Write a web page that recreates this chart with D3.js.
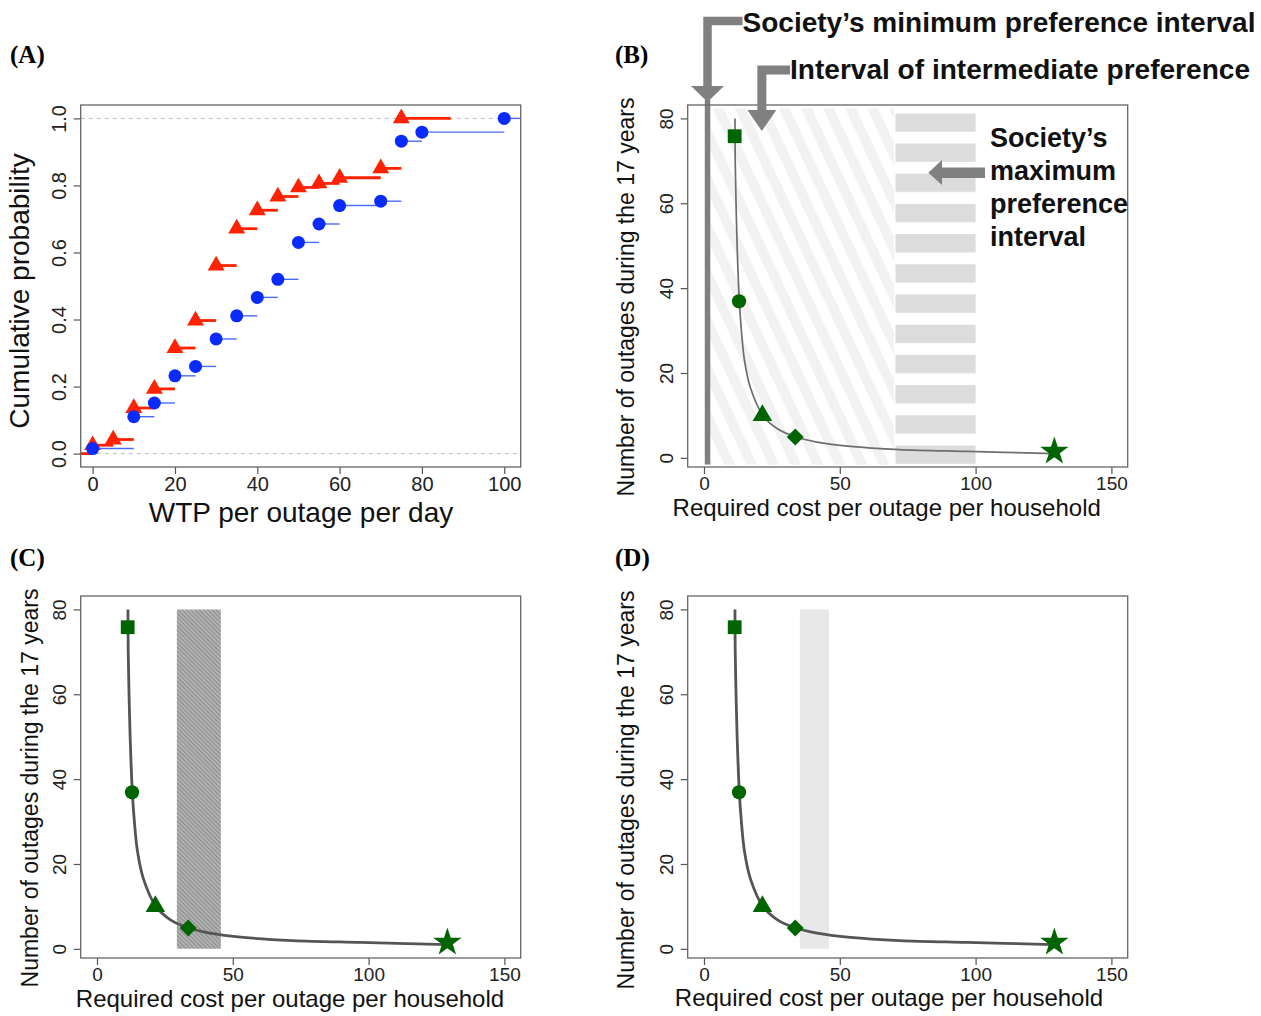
<!DOCTYPE html>
<html>
<head>
<meta charset="utf-8">
<script src="https://cdn.jsdelivr.net/npm/d3@7"></script>
<style>
  body { margin: 0; background: #fff; }
  svg { display: block; font-family: "Liberation Sans", Arial, Helvetica, sans-serif; }
</style>
</head>
<body>
<svg id="fig" width="1261" height="1016"></svg>
<script>
// (A) empirical cumulative distributions of WTP per outage per day
const wtpRed  = [0, 5, 10, 15, 20, 25, 30, 35, 40, 45, 50, 55, 60, 70, 75];
const cdfRed  = [0.025, 0.042, 0.136, 0.193, 0.315, 0.397, 0.561, 0.671, 0.726, 0.767, 0.794, 0.806, 0.823, 0.851, 1.0];
const redEnd  = 87;
const wtpBlue = [0, 10, 15, 20, 25, 30, 35, 40, 45, 50, 55, 60, 70, 75, 80, 100];
const cdfBlue = [0.015, 0.110, 0.151, 0.232, 0.260, 0.342, 0.411, 0.466, 0.520, 0.630, 0.685, 0.740, 0.753, 0.932, 0.959, 1.0];
const blueEnd = 104;

// (B)-(D) required cost vs number of outages
const curveCost    = [11.4, 11.5, 11.8, 12.2, 13.0, 13.7, 14.9, 17.1, 21.7, 26.9, 33.8, 41.6, 53.9, 72, 97, 129];
const curveOutages = [80, 70, 60, 50, 37, 30.5, 23, 16.5, 10, 6.9, 4.9, 3.7, 2.7, 1.95, 1.5, 1.0];
const optionCost    = [11.3, 12.9, 21.5, 33.6, 129];
const optionOutages = [75.8, 36.9, 10, 4.9, 1.5];
const optionShape   = ["square", "circle", "triangle", "diamond", "star"];

// preference intervals (cost axis)
const minPrefCost  = 1.3;
const midPrefRange = [1.3, 70];
const maxPrefRange = [70.5, 100];
const intervalC    = [29.4, 45.6];
const intervalD    = [35.3, 46.0];

// tick labels
const xTicksA = [0, 20, 40, 60, 80, 100];
const yTicksA = [0, 0.2, 0.4, 0.6, 0.8, 1.0];
const xTicksCost = [0, 50, 100, 150];
const yTicksOut  = [0, 20, 40, 60, 80];

const svg = d3.select("#fig");
const W = 440, H = 362;
const green = "#006400";

// patterns
const defs = svg.append("defs");
const stripes = defs.append("pattern").attr("id", "stripes")
  .attr("patternUnits", "userSpaceOnUse").attr("width", 20).attr("height", 20)
  .attr("patternTransform", "rotate(-25)");
stripes.append("rect").attr("width", 20).attr("height", 20).attr("fill", "#fff");
stripes.append("rect").attr("width", 10).attr("height", 20).attr("fill", "#f2f2f2");

const bars = defs.append("pattern").attr("id", "bars")
  .attr("patternUnits", "userSpaceOnUse").attr("width", 40).attr("height", 30.2)
  .attr("y", 113.3);
bars.append("rect").attr("width", 40).attr("height", 18.3).attr("fill", "#dcdcdc");

const dense = defs.append("pattern").attr("id", "dense")
  .attr("patternUnits", "userSpaceOnUse").attr("width", 3).attr("height", 3)
  .attr("patternTransform", "rotate(-45)");
dense.append("rect").attr("width", 3).attr("height", 3).attr("fill", "#b8b8b8");
dense.append("rect").attr("width", 1.3).attr("height", 3).attr("fill", "#8c8c8c");

function makePanel(left, top, xDomain, yDomain) {
  const g = svg.append("g");
  const x = d3.scaleLinear().domain(xDomain).range([left, left + W]);
  const y = d3.scaleLinear().domain(yDomain).range([top + H, top]);
  return { g, x, y, left, top };
}

function drawAxes(p, xTicks, yTicks, fmtY, fontSize) {
  const ax = p.g.append("g").attr("transform", `translate(0,${p.top + H})`)
    .call(d3.axisBottom(p.x).tickValues(xTicks).tickSize(7).tickPadding(3));
  const ay = p.g.append("g").attr("transform", `translate(${p.left},0)`)
    .call(d3.axisLeft(p.y).tickValues(yTicks).tickSize(7).tickFormat(fmtY));
  [ax, ay].forEach(a => {
    a.attr("font-family", null).attr("font-size", fontSize);
    a.select(".domain").remove();
    a.selectAll("line").attr("stroke", "#555").attr("stroke-width", 1.2);
    a.selectAll("text").attr("fill", "#222");
  });
  ay.selectAll("text")
    .attr("transform", "rotate(-90)")
    .attr("x", 0).attr("y", -15).attr("dy", 0)
    .attr("text-anchor", "middle");
  p.g.append("rect")
    .attr("x", p.left).attr("y", p.top).attr("width", W).attr("height", H)
    .attr("fill", "none").attr("stroke", "#666").attr("stroke-width", 1.3);
}

function titles(xText, xc, xBase, xSize, yText, yBase, yc, ySize) {
  svg.append("text").attr("x", xc).attr("y", xBase).attr("text-anchor", "middle")
    .style("font-size", xSize + "px").attr("fill", "#111").text(xText);
  svg.append("text").attr("transform", `translate(${yBase},${yc}) rotate(-90)`)
    .attr("text-anchor", "middle").style("font-size", ySize + "px").attr("fill", "#111").text(yText);
}

function panelLabel(txt, x, y) {
  svg.append("text").attr("x", x).attr("y", y)
    .style("font-family", "'Liberation Serif', 'Times New Roman', serif")
    .style("font-weight", "bold").style("font-size", "25px").text(txt);
}

// ---------- panel A ----------
const pA = makePanel(80.7, 105, [-2.9, 104], [-0.04, 1.04]);
[0, 1].forEach(v => {
  pA.g.append("line").attr("x1", pA.left).attr("x2", pA.left + W)
    .attr("y1", pA.y(v)).attr("y2", pA.y(v))
    .attr("stroke", "#bbb").attr("stroke-dasharray", "4,4").attr("stroke-width", 1);
});

function steps(xs, ys, end) {
  return xs.map((x0, i) => ({ x0, x1: i < xs.length - 1 ? xs[i + 1] : end, y: ys[i] }));
}
const redSeg = steps(wtpRed, cdfRed, redEnd);
redSeg.unshift({ x0: -2.9, x1: 0, y: 0 });
const blueSeg = steps(wtpBlue, cdfBlue, blueEnd);

pA.g.append("g").selectAll("line").data(redSeg).enter().append("line")
  .attr("x1", d => pA.x(d.x0)).attr("x2", d => pA.x(d.x1))
  .attr("y1", d => pA.y(d.y)).attr("y2", d => pA.y(d.y))
  .attr("stroke", "#ff2200").attr("stroke-width", 2.8);
pA.g.append("g").selectAll("path").data(wtpRed).enter().append("path")
  .attr("d", d3.symbol(d3.symbolTriangle, 125))
  .attr("transform", (d, i) => `translate(${pA.x(d)},${pA.y(cdfRed[i])})`)
  .attr("fill", "#ff2200");

pA.g.append("g").selectAll("line").data(blueSeg).enter().append("line")
  .attr("x1", d => pA.x(d.x0)).attr("x2", d => pA.x(d.x1))
  .attr("y1", d => pA.y(d.y)).attr("y2", d => pA.y(d.y))
  .attr("stroke", "#4a6bff").attr("stroke-width", 1.4);
pA.g.append("g").selectAll("circle").data(wtpBlue).enter().append("circle")
  .attr("cx", d => pA.x(d)).attr("cy", (d, i) => pA.y(cdfBlue[i])).attr("r", 6.5)
  .attr("fill", "#0a2bff");

drawAxes(pA, xTicksA, yTicksA, d3.format(".1f"), 20);
titles("WTP per outage per day", 301, 521.5, 28, "Cumulative probability", 28.5, 291, 28);
panelLabel("(A)", 10, 63);

// ---------- frontier panels ----------
const shapes = {
  square: d3.symbol(d3.symbolSquare, 190)(),
  circle: d3.symbol(d3.symbolCircle, 160)(),
  triangle: d3.symbol(d3.symbolTriangle, 165)(),
  diamond: d3.symbol(d3.symbolSquare, 145)(),
  star: d3.symbol(d3.symbolStar, 250)()
};

function frontier(p, lineColor, lineWidth) {
  const pts = curveCost.map((c, i) => [c, curveOutages[i]]);
  p.g.append("path").datum(pts)
    .attr("d", d3.line().x(d => p.x(d[0])).y(d => p.y(d[1])).curve(d3.curveCatmullRom.alpha(0.5)))
    .attr("fill", "none").attr("stroke", lineColor).attr("stroke-width", lineWidth);
  p.g.append("g").selectAll("path").data(optionShape).enter().append("path")
    .attr("d", d => shapes[d])
    .attr("transform", (d, i) => `translate(${p.x(optionCost[i])},${p.y(optionOutages[i])})` + (d === "diamond" ? " rotate(45)" : ""))
    .attr("fill", green);
}

function costDomain(left, top) {
  return makePanel(left, top, [-6, 156], [-2.16, 83.16]);
}

// ---------- panel B ----------
const pB = costDomain(687.7, 105);
pB.g.append("rect")
  .attr("x", pB.x(midPrefRange[0])).attr("width", pB.x(midPrefRange[1]) - pB.x(midPrefRange[0]))
  .attr("y", pB.y(82.4)).attr("height", pB.y(-1.6) - pB.y(82.4))
  .attr("fill", "url(#stripes)");
pB.g.append("rect")
  .attr("x", pB.x(maxPrefRange[0])).attr("width", pB.x(maxPrefRange[1]) - pB.x(maxPrefRange[0]))
  .attr("y", pB.y(81.2)).attr("height", pB.y(-1.6) - pB.y(81.2))
  .attr("fill", "url(#bars)");
pB.g.append("line")
  .attr("x1", pB.x(minPrefCost)).attr("x2", pB.x(minPrefCost))
  .attr("y1", 100).attr("y2", pB.y(-1.6))
  .attr("stroke", "#808080").attr("stroke-width", 5.5);
frontier(pB, "#6e6e6e", 1.7);
drawAxes(pB, xTicksCost, yTicksOut, d3.format("d"), 19);
titles("Required cost per outage per household", 886.7, 515.7, 24,
       "Number of outages during the 17 years", 634, 297, 23);
panelLabel("(B)", 615, 63);

// annotation arrows
const arrowGrey = "#808080";
const ax1 = pB.x(minPrefCost), ax2 = pB.x(21.3);
svg.append("path").attr("d", `M742.5,21 H${ax1} V87`)
  .attr("fill", "none").attr("stroke", arrowGrey).attr("stroke-width", 8.5).attr("stroke-linejoin", "miter");
svg.append("path").attr("d", `M${ax1 - 16.5},86 L${ax1 + 16.5},86 L${ax1},102 Z`).attr("fill", arrowGrey);
svg.append("path").attr("d", `M790,70 H${ax2} V111`)
  .attr("fill", "none").attr("stroke", arrowGrey).attr("stroke-width", 9).attr("stroke-linejoin", "miter");
svg.append("path").attr("d", `M${ax2 - 14.5},110 L${ax2 + 14.5},110 L${ax2},131 Z`).attr("fill", arrowGrey);
svg.append("rect").attr("x", 940).attr("y", 167.5).attr("width", 45).attr("height", 10.5).attr("fill", arrowGrey);
svg.append("path").attr("d", "M942,160 L942,185 L928.3,172.7 Z").attr("fill", arrowGrey);

const bold = sel => sel.style("font-weight", "bold").attr("fill", "#111");
bold(svg.append("text").attr("x", 742.5).attr("y", 31.5).style("font-size", "27px")
  .attr("textLength", 513).attr("lengthAdjust", "spacingAndGlyphs")
  .text("Society\u2019s minimum preference interval"));
bold(svg.append("text").attr("x", 790).attr("y", 79).style("font-size", "27px")
  .attr("textLength", 460).attr("lengthAdjust", "spacingAndGlyphs")
  .text("Interval of intermediate preference"));
["Society\u2019s", "maximum", "preference", "interval"].forEach((t, i) => {
  bold(svg.append("text").attr("x", 990).attr("y", 146.5 + i * 33.2).style("font-size", "27px").text(t));
});

// ---------- panel C ----------
const pC = costDomain(80.7, 596);
pC.g.append("rect")
  .attr("x", pC.x(intervalC[0])).attr("width", pC.x(intervalC[1]) - pC.x(intervalC[0]))
  .attr("y", pC.y(80)).attr("height", pC.y(0) - pC.y(80))
  .attr("rx", 1.5).attr("fill", "url(#dense)");
frontier(pC, "#555", 2.8);
drawAxes(pC, xTicksCost, yTicksOut, d3.format("d"), 19);
titles("Required cost per outage per household", 290, 1006.5, 24,
       "Number of outages during the 17 years", 37.5, 788, 23);
panelLabel("(C)", 10, 566);

// ---------- panel D ----------
const pD = costDomain(687.7, 596);
pD.g.append("rect")
  .attr("x", pD.x(intervalD[0])).attr("width", pD.x(intervalD[1]) - pD.x(intervalD[0]))
  .attr("y", pD.y(80)).attr("height", pD.y(0) - pD.y(80))
  .attr("fill", "#e8e8e8");
frontier(pD, "#555", 2.8);
drawAxes(pD, xTicksCost, yTicksOut, d3.format("d"), 19);
titles("Required cost per outage per household", 889, 1006, 24,
       "Number of outages during the 17 years", 634, 790, 23);
panelLabel("(D)", 615, 566);
</script>
</body>
</html>
